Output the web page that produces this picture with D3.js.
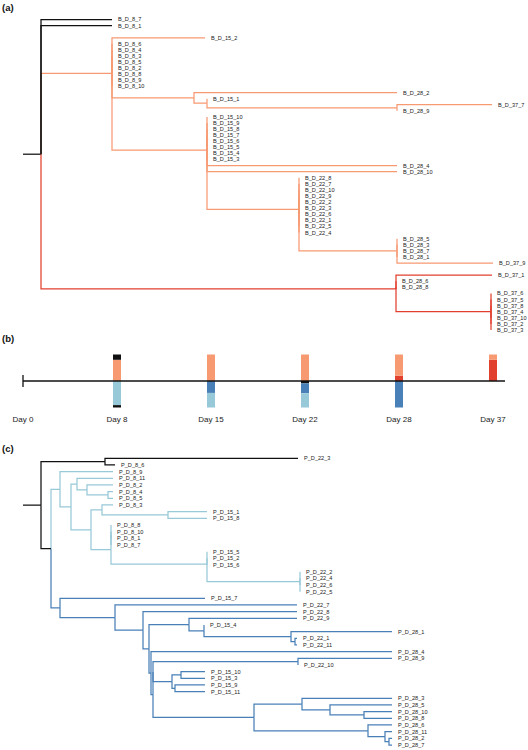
<!DOCTYPE html>
<html><head><meta charset="utf-8">
<script src="https://cdn.jsdelivr.net/npm/d3@7"></script>
<style>body{margin:0;background:#fff}svg{display:block}</style>
</head><body>
<svg id="chart" width="528" height="750"></svg>
<script>
// ---------- DATA ----------
// Tree (a): B samples, Newick with branch lengths
const treeA = "(B_D_8_7:0.71,B_D_8_1:0.71,(B_D_15_2:0.93,B_D_8_6:0,B_D_8_4:0,B_D_8_3:0,B_D_8_5:0,B_D_8_2:0,B_D_8_8:0,B_D_8_9:0,B_D_8_10:0,(B_D_28_2:2.03,(B_D_15_1:0,(B_D_37_7:0.95,B_D_28_9:0)N3:1.90)N2:0.13)N1:0.82,(B_D_15_10:0,B_D_15_9:0,B_D_15_8:0,B_D_15_7:0,B_D_15_6:0,B_D_15_5:0,B_D_15_4:0,B_D_15_3:0,B_D_28_4:1.90,B_D_28_10:1.90,(B_D_22_8:0,B_D_22_7:0,B_D_22_10:0,B_D_22_9:0,B_D_22_2:0,B_D_22_3:0,B_D_22_6:0,B_D_22_1:0,B_D_22_5:0,B_D_22_4:0,(B_D_28_5:0,B_D_28_3:0,B_D_28_7:0,B_D_28_1:0,B_D_37_9:0.96)N6:0.98)N5:0.92)N4:0.95)O:0.71,(B_D_37_1:0.96,B_D_28_6:0,B_D_28_8:0,(B_D_37_6:0,B_D_37_5:0,B_D_37_8:0,B_D_37_4:0,B_D_37_10:0,B_D_37_2:0,B_D_37_3:0)N7:0.95)R:3.55)rootA:0.18;";
// Tree (c): P samples
const treeC = "((P_D_22_3:1.93,P_D_8_6:0.10)Bk:0.64,((P_D_8_9:0.53,((P_D_8_11:0.36,(P_D_8_2:0.26,(P_D_8_4:0.05,P_D_8_5:0.05)L6:0.21)L5:0.10)L3:0.06,((P_D_8_3:0.11,(P_D_15_1:0.39,P_D_15_8:0.39)L9:0.66)L7:0.11,((P_D_8_8:0,P_D_8_10:0,P_D_8_1:0,P_D_8_7:0)X:0,(P_D_15_5:0,P_D_15_2:0,P_D_15_6:0,(P_D_22_2:0,P_D_22_4:0,P_D_22_6:0,P_D_22_5:0)L11:0.93)L10:0.96)L8:0.20)L4:0.20)L2:0.11)L:0.09,(P_D_15_7:1.45,(P_D_22_7:1.82,(P_D_22_8:1.54,((P_D_22_9:1.08,(P_D_15_4:0,(P_D_28_1:1.01,(P_D_22_1:0.02,P_D_22_11:0.02)D9:0.04)D8:0.87)D7:0.15)D5:0.40,(P_D_28_4:2.41,(((P_D_28_9:0.94,P_D_22_10:0)D12:1.45,((P_D_15_10:0.24,P_D_15_3:0.24)D15:0.09,(P_D_15_9:0.30,P_D_15_11:0.30)D16:0.03)D13:0.19)Yp:0,((P_D_28_3:0.90,(P_D_28_5:0.62,(P_D_28_10:0.28,P_D_28_8:0.28)D20:0.34)D19:0.28)D17:0.48,(P_D_28_6:0.24,(P_D_28_11:0.07,(P_D_28_2:0.03,P_D_28_7:0.03)D22:0.04)D21:0.17)D18:1.14)D14:1.01)D11:0.02)D10:0.02)D4:0.06)D3:0.28)D2:0.55)D:0.09)C0:0.10)rootC:0.18;";

// clade -> group (inherited by descendants)
const cladeGroupsA = [["rootA","base"],["O","B1"],["R","B2"]];
const cladeGroupsC = [["rootC","base"],["L","P1"],["D","P2"]];
// blank rows separating clusters in tree (a)
const gapsAfterA = ["B_D_8_1","B_D_37_9"];
const gapsAfterC = [];

const groupNames  = ["base","B1","B2","P1","P2"];
const groupColors = ["#111111","#F79A72","#E2402F","#98C9D8","#4A80B8"];

// Panel (b): sampling days and cluster composition (fractions, from axis outward)
const days = ["Day 0","Day 8","Day 15","Day 22","Day 28","Day 37"];
const barsB = [
  ["Day 8",  [["B1",0.8],["base",0.2]]],
  ["Day 15", [["B1",1.0]]],
  ["Day 22", [["B1",1.0]]],
  ["Day 28", [["B2",0.2],["B1",0.8]]],
  ["Day 37", [["B2",0.8],["B1",0.2]]]
];
const barsP = [
  ["Day 8",  [["P1",0.91],["base",0.09]]],
  ["Day 15", [["P2",0.45],["P1",0.55]]],
  ["Day 22", [["base",0.09],["P2",0.37],["P1",0.54]]],
  ["Day 28", [["P2",1.0]]]
];

// ---------- HELPERS ----------
function parseNewick(s){
  let i=0;
  function node(){
    const n={children:[]};
    if(s[i]==='('){
      i++;
      n.children.push(node());
      while(s[i]===','){i++; n.children.push(node());}
      i++;
    }
    let name=''; while(i<s.length && !':,();'.includes(s[i])) name+=s[i++];
    n.name=name;
    if(s[i]===':'){i++; let num=''; while(i<s.length && !',();'.includes(s[i])) num+=s[i++]; n.length=+num;}
    else n.length=0;
    if(!n.children.length) delete n.children;
    return n;
  }
  return node();
}

const color = d3.scaleOrdinal().domain(groupNames).range(groupColors);
const svg = d3.select("#chart");
const FONT = "'Liberation Sans', Arial, Helvetica, sans-serif";

const xTree = d3.scaleLinear().domain([0, 4.51]).range([41, 492]);

function drawTree(newick, groups, gaps, yRange){
  const root = d3.hierarchy(parseNewick(newick));
  const gmap = new Map(groups);
  root.each(d=>{
    d.dist = d.parent ? d.parent.dist + d.data.length : 0;
    d.group = gmap.has(d.data.name) ? gmap.get(d.data.name) : (d.parent ? d.parent.group : "base");
  });
  const leaves = root.leaves();
  const rows = [];
  leaves.forEach(l=>{ rows.push(l.data.name); if(gaps.includes(l.data.name)) rows.push("gap_"+l.data.name); });
  const y = d3.scalePoint().domain(rows).range(yRange);
  root.eachAfter(d=>{
    if(!d.children) d.y = y(d.data.name);
    else if(!d.parent) d.y = (d3.min(d.children,c=>c.y)+d3.max(d.children,c=>c.y))/2;
    else d.y = d3.mean(d.children, c=>c.y);
  });

  const g = svg.append("g");
  g.append("path")
    .attr("d", `M${xTree(-root.data.length)},${root.y}H${xTree(0)}`)
    .attr("stroke", color(root.group)).attr("stroke-width",1.25).attr("fill","none");
  const links = root.descendants().filter(d=>d.parent)
    .sort((a,b)=> (b.depth-a.depth) || ((a.group==="base")-(b.group==="base")));
  g.selectAll("path.link").data(links).join("path")
    .attr("class","link")
    .attr("d", d=>`M${xTree(d.parent.dist)},${d.parent.y}V${d.y}H${xTree(d.dist)}`)
    .attr("fill","none")
    .attr("stroke", d=>color(d.group))
    .attr("stroke-width",1.25);
  g.selectAll("text").data(leaves).join("text")
    .attr("x", d=>xTree(d.dist)+6)
    .attr("y", d=>d.y)
    .attr("dy","0.35em")
    .attr("font-family",FONT)
    .attr("font-size","5.6px")
    .attr("fill","#222")
    .text(d=>d.data.name);
}

drawTree(treeA, cladeGroupsA, gapsAfterA, [19.5, 330]);
drawTree(treeC, cladeGroupsC, gapsAfterC, [458.3, 745]);

// ---------- PANEL (b) ----------
const xDay = d3.scalePoint().domain(days).range([23, 493]);
const hBar = d3.scaleLinear().domain([0,1]).range([0, 26.5]);
const axisY = 381, barW = 8;

function stackParts(list, dir){
  const out=[];
  list.forEach(([day, parts])=>{
    let acc=0;
    parts.forEach(([grp, v])=>{
      out.push({day, grp, y0:acc, y1:acc+v, dir});
      acc+=v;
    });
  });
  return out;
}
const segs = stackParts(barsB,-1).concat(stackParts(barsP,1));
svg.append("g").selectAll("rect").data(segs).join("rect")
  .attr("x", d=>xDay(d.day)-barW/2)
  .attr("width", barW)
  .attr("y", d=> d.dir<0 ? axisY - hBar(d.y1) : axisY + hBar(d.y0))
  .attr("height", d=> hBar(d.y1)-hBar(d.y0))
  .attr("fill", d=>color(d.grp));

svg.append("line").attr("x1",23).attr("x2",505).attr("y1",axisY).attr("y2",axisY)
  .attr("stroke","#111").attr("stroke-width",1.3);
svg.append("line").attr("x1",xDay("Day 0")).attr("x2",xDay("Day 0")).attr("y1",375).attr("y2",387)
  .attr("stroke","#111").attr("stroke-width",1.3);

svg.append("g").selectAll("text").data(days).join("text")
  .attr("x", d=>xDay(d)).attr("y", 422)
  .attr("text-anchor","middle")
  .attr("font-family",FONT).attr("font-size","8px").attr("fill","#222")
  .text(d=>d);

// panel letters
const panels = [["(a)",10.5],["(b)",341.5],["(c)",452]];
svg.append("g").selectAll("text").data(panels).join("text")
  .attr("x",2).attr("y",d=>d[1])
  .attr("font-family",FONT).attr("font-weight","bold").attr("font-size","9.5px").attr("fill","#111")
  .text(d=>d[0]);
</script>
</body></html>
